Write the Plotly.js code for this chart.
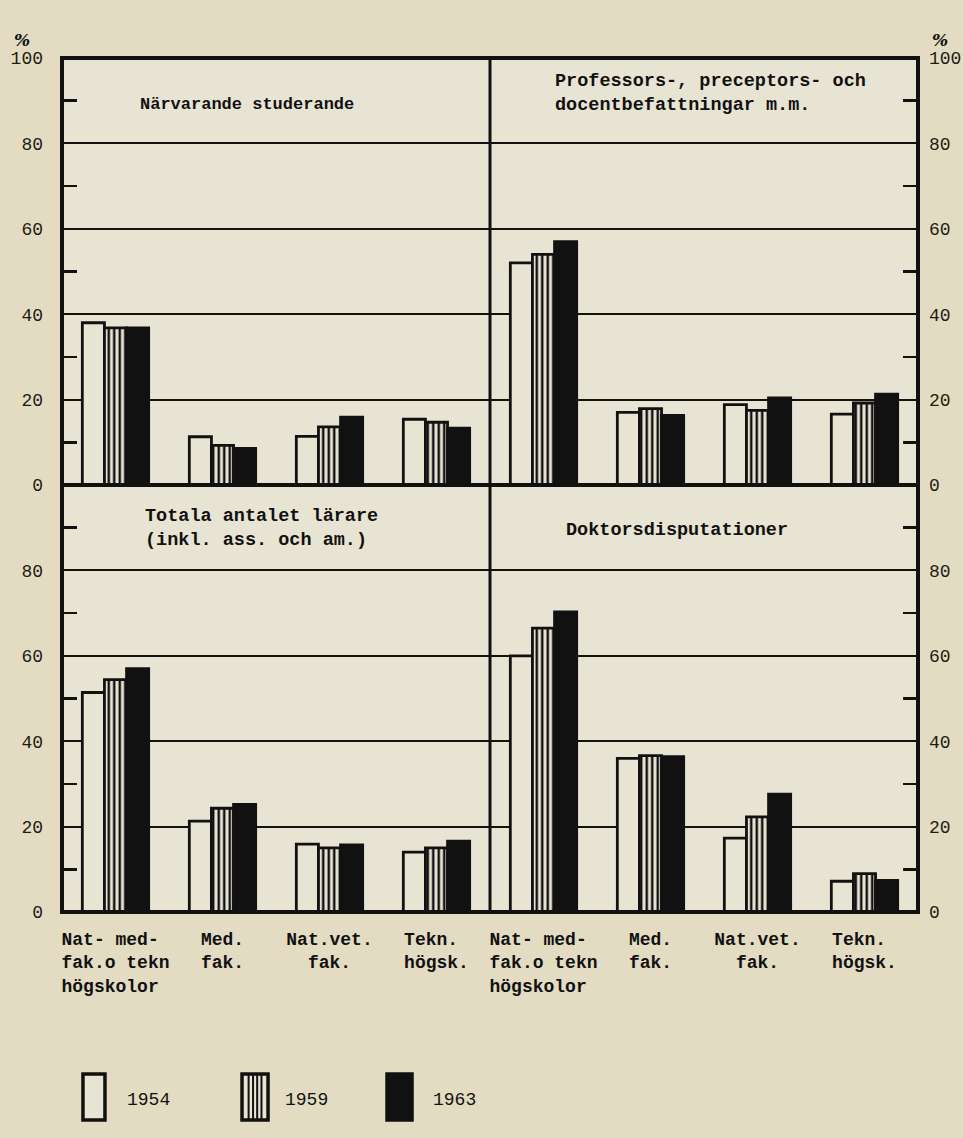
<!DOCTYPE html>
<html>
<head>
<meta charset="utf-8">
<script src="https://cdn.plot.ly/plotly-3.0.1.min.js"></script>
<style>
html,body{margin:0;padding:0;background:#e4ddc5;}
#chart{width:963px;height:1138px;}
</style>
</head>
<body>
<div id="chart"></div>
<script>
// ---- data ----
const categories = [
  "Nat-\u00a0med-\u00a0<br>fak.o\u00a0tekn<br>högskolor\u00a0",
  "Med.<br>fak.",
  "Nat.vet.<br>\u00a0\u00a0fak.\u00a0\u00a0",
  "Tekn.\u00a0<br>högsk."
];
const years = ["1954", "1959", "1963"];

const panelTitles = [
  "Närvarande studerande",
  "Professors-, preceptors- och<br>docentbefattningar m.m.",
  "Totala antalet lärare<br>(inkl. ass. och am.)",
  "Doktorsdisputationer"
];

// Närvarande studerande
const studerande1954 = [38.0, 11.3, 11.4, 15.4];
const studerande1959 = [36.8, 9.3, 13.6, 14.7];
const studerande1963 = [36.8, 8.6, 15.9, 13.3];

// Professors-, preceptors- och docentbefattningar m.m.
const professorer1954 = [52.0, 17.0, 18.8, 16.6];
const professorer1959 = [54.0, 17.9, 17.5, 19.2];
const professorer1963 = [57.0, 16.3, 20.4, 21.3];

// Totala antalet lärare
const larare1954 = [51.4, 21.3, 15.9, 14.0];
const larare1959 = [54.4, 24.3, 15.0, 15.0];
const larare1963 = [57.0, 25.2, 15.7, 16.6];

// Doktorsdisputationer
const doktor1954 = [60.0, 36.0, 17.3, 7.2];
const doktor1959 = [66.5, 36.6, 22.3, 9.0];
const doktor1963 = [70.3, 36.4, 27.6, 7.4];

const yTickTop = [0, 20, 40, 60, 80, 100];
const yTickBottom = [0, 20, 40, 60, 80];
const yMinor = [10, 30, 50, 70, 90];

// ---- styles ----
const PAPER = '#e3dcc3';
const PLOT = '#e8e4d3';
const INK = '#111';
const MONO = '"Liberation Mono", "DejaVu Sans Mono", monospace';

const panels = [
  {data:[studerande1954, studerande1959, studerande1963], xa:'x',  ya:'y'},
  {data:[professorer1954, professorer1959, professorer1963], xa:'x2', ya:'y2'},
  {data:[larare1954, larare1959, larare1963], xa:'x3', ya:'y3'},
  {data:[doktor1954, doktor1959, doktor1963], xa:'x4', ya:'y4'}
];

function markerFor(i){
  const line = {color: INK, width: 2.8};
  if (i === 0) return {color: PLOT, line};
  if (i === 1) return {color: PLOT, line,
    pattern:{shape:'|', fgcolor: INK, bgcolor: PLOT, size: 5.5, solidity: 0.45, fillmode:'replace'}};
  return {color: INK, line};
}

const traces = [];
panels.forEach(p => {
  p.data.forEach((vals, i) => {
    traces.push({
      type:'bar', x: categories, y: vals, name: years[i],
      xaxis: p.xa, yaxis: p.ya, marker: markerFor(i),
      showlegend:false, hoverinfo:'y'
    });
  });
});

const tickFont = {family: MONO, size: 18, color: '#1d1d12'};
function yAxis(domain, side, vals, anchor){
  return {
    domain, side, anchor, range:[0,100], fixedrange:true,
    tickmode:'array', tickvals: vals, ticktext: vals.map(String),
    ticks:'', showline:false, zeroline:false,
    showgrid:true, gridcolor: INK, gridwidth: 2,
    tickfont: tickFont, ticklabelstandoff: side === 'left' ? 18 : 10,
    minor:{tickmode:'array', tickvals: yMinor, ticks:'inside', ticklen:15, tickwidth:2.5, tickcolor:INK, showgrid:false}
  };
}
function xAxis(domain, anchor, showLabels){
  return {
    domain, anchor, type:'category', range:[-0.5, 3.5], fixedrange:true,
    showticklabels: showLabels, ticks:'', showgrid:false, zeroline:false, showline:false,
    tickfont:{family: MONO, size: 18, color: INK, weight: 'bold'}, ticklabelstandoff: 14
  };
}

const titleFont = {family: MONO, size: 17, color: INK, weight: 'bold'};
const titleFontL = {family: MONO, size: 18.5, color: INK, weight: 'bold'};
const annotations = [
  {text: panelTitles[0], x:0.2167, y:0.946, xanchor:'center', yanchor:'middle', align:'center', font: titleFont},
  {text: panelTitles[1], x:0.5736, y:0.958, xanchor:'left', yanchor:'middle', align:'left', font: titleFontL},
  {text: panelTitles[2], x:0.0946, y:0.4496, xanchor:'left', yanchor:'middle', align:'left', font: titleFontL},
  {text: panelTitles[3], x:0.7179, y:0.4473, xanchor:'center', yanchor:'middle', align:'center', font: titleFontL}
].map(a => Object.assign({xref:'paper', yref:'paper', showarrow:false}, a));

// percent signs
annotations.push({text:'%', x:-0.047, y:1.021, xref:'paper', yref:'paper', showarrow:false,
  font:{family:'"DejaVu Serif", serif', size:17, color:INK, style:'italic', weight:'bold'}, xanchor:'center', yanchor:'middle'});
annotations.push({text:'%', x:1.0257, y:1.021, xref:'paper', yref:'paper', showarrow:false,
  font:{family:'"DejaVu Serif", serif', size:17, color:INK, style:'italic', weight:'bold'}, xanchor:'center', yanchor:'middle'});

// legend labels
const legendX = [0.101, 0.2862, 0.4591];
years.forEach((yr, i) => annotations.push({
  text: yr, x: legendX[i], y: -0.2201, xref:'paper', yref:'paper', showarrow:false,
  font:{family: MONO, size: 18, color: INK}, xanchor:'center', yanchor:'middle'
}));

// frame + dividers + legend swatches
const shapes = [
  {type:'rect', xref:'paper', yref:'paper', x0:0, x1:1, y0:0, y1:1, line:{color:INK, width:4}, layer:'above'},
  {type:'line', xref:'paper', yref:'paper', x0:0.5, x1:0.5, y0:0, y1:1, line:{color:INK, width:3}, layer:'above'},
  {type:'line', xref:'paper', yref:'paper', x0:0, x1:1, y0:0.5, y1:0.5, line:{color:INK, width:4}, layer:'above'},
  // legend boxes
  {type:'rect', xref:'paper', yref:'paper', x0:0.0245, x1:0.0502, y0:-0.2436, y1:-0.1897, fillcolor:PLOT, line:{color:INK, width:3.5}},
  {type:'rect', xref:'paper', yref:'paper', x0:0.2103, x1:0.2407, y0:-0.2436, y1:-0.1897, fillcolor:PLOT, line:{color:INK, width:3.5}},
  {type:'rect', xref:'paper', yref:'paper', x0:0.3797, x1:0.4089, y0:-0.2436, y1:-0.1897, fillcolor:INK, line:{color:INK, width:3.5}}
];
[0.2180, 0.2232, 0.2280, 0.2330].forEach(xx => shapes.push(
  {type:'line', xref:'paper', yref:'paper', x0:xx, x1:xx, y0:-0.2436, y1:-0.1897, line:{color:INK, width:2}}
));

const layout = {
  width: 963, height: 1138,
  margin:{l:62, r:45, t:58, b:226},
  paper_bgcolor: PAPER, plot_bgcolor: PLOT,
  barmode:'group', bargap:0.38, bargroupgap:0,
  showlegend:false,
  xaxis:  xAxis([0,0.5], 'y', false),
  xaxis2: xAxis([0.5,1], 'y2', false),
  xaxis3: xAxis([0,0.5], 'y3', true),
  xaxis4: xAxis([0.5,1], 'y4', true),
  yaxis:  yAxis([0.5,1], 'left', yTickTop, 'x'),
  yaxis2: yAxis([0.5,1], 'right', yTickTop, 'x2'),
  yaxis3: yAxis([0,0.5], 'left', yTickBottom, 'x3'),
  yaxis4: yAxis([0,0.5], 'right', yTickBottom, 'x4'),
  annotations, shapes
};

Plotly.newPlot('chart', traces, layout, {displayModeBar:false, staticPlot:true});
</script>
</body>
</html>
